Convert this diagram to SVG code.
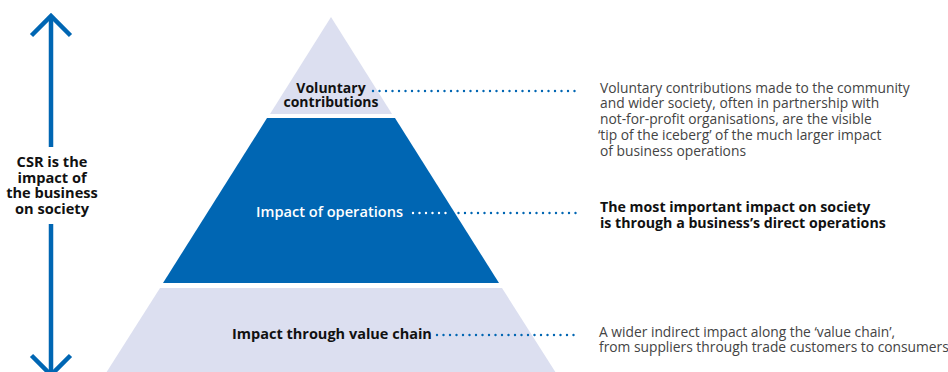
<svg xmlns="http://www.w3.org/2000/svg" width="948" height="372" viewBox="0 0 948 372">
<style>
.lav{fill:#dcdff0}
.blue{fill:#0066b3}
.lbl{font-family:"Open Sans","Liberation Sans",sans-serif;font-size:14px}
.b{font-weight:bold;fill:#111}
.w{fill:#ffffff;font-size:14.6px;font-weight:600}
.vc{font-size:14.5px}
.csr{font-size:14.6px}
.desc{font-family:"Open Sans","Liberation Sans",sans-serif;font-size:13.8px;fill:#444}
.descb{font-family:"Open Sans","Liberation Sans",sans-serif;font-size:14.2px;font-weight:bold;fill:#111}
.dots{fill:none;stroke:#0066b3;stroke-width:2.4;stroke-linecap:round;stroke-dasharray:0 6.5}
.wdots{fill:none;stroke:#ffffff;stroke-width:2.4;stroke-linecap:round;stroke-dasharray:0 6.5}
.arr{fill:none;stroke:#0066b3;stroke-width:4.5}
</style>
<rect width="948" height="372" fill="#ffffff"/>
<g id="axis">
<line class="arr" x1="51" y1="16" x2="51" y2="147"/>
<line class="arr" x1="51" y1="224" x2="51" y2="376"/>
<polyline class="arr" points="31.5,35.5 51,16 70.5,35.5"/>
<polyline class="arr" points="31.5,355.5 51,375 70.5,355.5"/>
<text class="lbl b csr" text-anchor="middle"><tspan x="52" y="167">CSR is the</tspan><tspan x="52" y="182.7">impact of</tspan><tspan x="52" y="198.4">the business</tspan><tspan x="52" y="214">on society</tspan></text>
</g>
<g id="tier-voluntary">
<polygon class="lav" points="331,17 392,114 270,114"/>
<text class="lbl b" text-anchor="middle"><tspan x="331" y="92.5">Voluntary</tspan><tspan x="331" y="107">contributions</tspan></text>
</g>
<g id="tier-operations">
<polygon class="blue" points="267,118 395,118 499,283 163,283"/>
<text class="lbl w" x="256" y="217">Impact of operations</text>
</g>
<g id="tier-valuechain">
<polygon class="lav" points="160,288 502,288 556,373 106,373"/>
<text class="lbl b vc" x="232" y="339">Impact through value chain</text>
</g>
<g id="connectors">
<line class="dots" x1="373" y1="91" x2="576" y2="91"/>
<line class="wdots" x1="413" y1="213" x2="452" y2="213"/>
<line class="dots" x1="458.5" y1="213" x2="578" y2="213"/>
<line class="dots" x1="437" y1="335" x2="577" y2="335"/>
</g>
<g id="desc-voluntary">
<text class="desc"><tspan x="600" y="92.7">Voluntary contributions made to the community</tspan><tspan x="600" y="108.4">and wider society, often in partnership with</tspan><tspan x="600" y="124.1">not-for-profit organisations, are the visible</tspan><tspan x="598" y="139.8">‘tip of the iceberg’ of the much larger impact</tspan><tspan x="600" y="155.5">of business operations</tspan></text>
</g>
<g id="desc-operations">
<text class="descb"><tspan x="600" y="211.7">The most important impact on society</tspan><tspan x="600" y="227.7">is through a business’s direct operations</tspan></text>
</g>
<g id="desc-valuechain">
<text class="desc"><tspan x="599" y="336.5">A wider indirect impact along the ‘value chain’,</tspan><tspan x="599" y="352">from suppliers through trade customers to consumers</tspan></text>
</g>
</svg>
